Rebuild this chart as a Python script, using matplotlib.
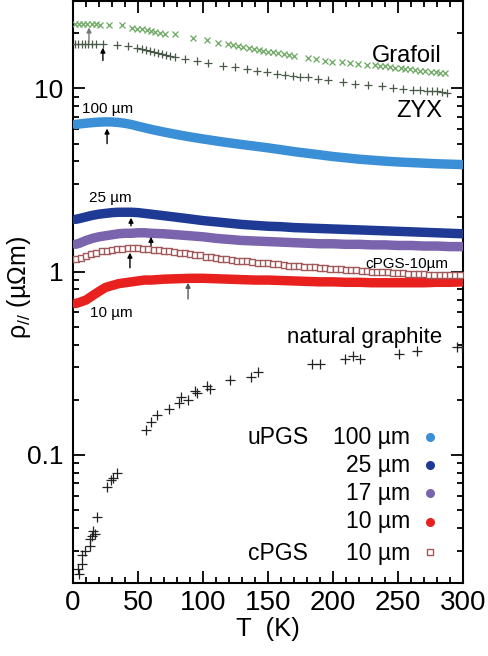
import matplotlib
matplotlib.use('Agg')
import matplotlib.pyplot as plt
from matplotlib.ticker import MultipleLocator, FixedLocator, FixedFormatter, LogLocator, NullFormatter

plt.rcParams['font.family'] = ['Liberation Sans', 'DejaVu Sans']
plt.rcParams['mathtext.fontset'] = 'custom'
plt.rcParams['mathtext.rm'] = 'Liberation Sans'
plt.rcParams['mathtext.it'] = 'Liberation Sans:italic'

# ---------------- data ----------------
T_band = [2, 5, 10, 15, 20, 25, 30, 35, 40, 45, 50, 55, 60, 70, 80, 90, 100, 110, 120, 130,
          140, 150, 160, 170, 180, 190, 200, 210, 220, 230, 240, 250, 260, 270, 280, 290, 300]
rho_u100 = [6.36, 6.40, 6.46, 6.51, 6.55, 6.57, 6.56, 6.52, 6.45, 6.35, 6.22, 6.10, 5.98, 5.78,
            5.60, 5.44, 5.30, 5.17, 5.05, 4.94, 4.84, 4.74, 4.63, 4.52, 4.43, 4.34, 4.25, 4.18,
            4.11, 4.06, 4.01, 3.97, 3.94, 3.91, 3.88, 3.86, 3.84]
rho_u25 = [1.93, 1.95, 1.99, 2.03, 2.06, 2.08, 2.10, 2.11, 2.11, 2.11, 2.10, 2.08, 2.06, 2.02,
           1.98, 1.94, 1.90, 1.87, 1.84, 1.81, 1.79, 1.77, 1.76, 1.74, 1.73, 1.72, 1.71, 1.70,
           1.69, 1.68, 1.67, 1.66, 1.65, 1.64, 1.63, 1.62, 1.61]
rho_u17 = [1.41, 1.43, 1.48, 1.52, 1.55, 1.57, 1.59, 1.61, 1.62, 1.62, 1.63, 1.63, 1.62, 1.61,
           1.59, 1.57, 1.55, 1.52, 1.50, 1.48, 1.47, 1.46, 1.45, 1.44, 1.43, 1.42, 1.42, 1.41,
           1.41, 1.40, 1.40, 1.39, 1.39, 1.38, 1.38, 1.37, 1.37]
rho_u10 = [0.67, 0.68, 0.70, 0.74, 0.78, 0.82, 0.84, 0.86, 0.87, 0.88, 0.89, 0.90, 0.90, 0.91,
           0.915, 0.92, 0.92, 0.915, 0.91, 0.905, 0.90, 0.90, 0.895, 0.89, 0.885, 0.88, 0.88,
           0.875, 0.875, 0.87, 0.87, 0.87, 0.87, 0.87, 0.875, 0.875, 0.88]

T_c10 = [2, 6, 10, 14, 18, 22, 26, 30, 34, 38, 42, 46, 50, 54, 58, 62, 66, 70, 74, 78, 82, 86,
         90, 94, 98, 102, 106, 110, 114, 118, 122, 126, 130, 134, 138, 142, 146, 150, 154, 158,
         162, 166, 170, 174, 178, 182, 186, 190, 194, 198, 202, 206, 210, 214, 218, 222, 226,
         230, 234, 238, 242, 246, 250, 254, 258, 262, 266, 270, 274, 278, 282, 286, 290, 294, 298]
rho_c10 = [1.17, 1.19, 1.22, 1.25, 1.27, 1.29, 1.30, 1.32, 1.33, 1.335, 1.34, 1.34, 1.34, 1.335,
           1.33, 1.32, 1.31, 1.30, 1.29, 1.28, 1.27, 1.26, 1.25, 1.24, 1.23, 1.21, 1.20, 1.19,
           1.18, 1.17, 1.16, 1.15, 1.145, 1.14, 1.13, 1.12, 1.12, 1.11, 1.10, 1.095, 1.09, 1.08,
           1.075, 1.07, 1.065, 1.06, 1.055, 1.05, 1.045, 1.04, 1.035, 1.03, 1.025, 1.02, 1.015,
           1.01, 1.005, 1.00, 0.995, 0.99, 0.99, 0.985, 0.98, 0.98, 0.975, 0.975, 0.97, 0.97,
           0.965, 0.965, 0.96, 0.96, 0.96, 0.96, 0.96]

T_grafoil = [1.5, 4.9, 7.9, 11, 14.4, 17.7, 20.8, 27.9, 37.4, 45.1, 49, 52.8, 56.7, 59.7, 63.1,
             66.9, 70.8, 78.5, 92.6, 102.8, 111.8, 119.5, 123, 127, 131, 135, 139, 143, 146, 150,
             154, 158, 162, 166, 170, 181, 187, 194, 199, 207, 213, 219.5, 226, 232, 236, 240,
             244, 248, 252, 255, 259, 263, 267, 271, 275, 279, 282, 286]
rho_grafoil = [22.4, 22.4, 22.4, 22.4, 22.4, 22.4, 22.3, 22.3, 22.1, 21.4, 21.2, 21.0, 20.8, 20.5,
               20.3, 20.1, 19.9, 19.7, 18.9, 18.3, 17.8, 17.4, 17.2, 17.0, 16.8, 16.6, 16.4, 16.2,
               16.1, 15.9, 15.8, 15.6, 15.4, 15.3, 15.1, 14.7, 14.4, 14.2, 14.0, 13.9, 13.8, 13.6,
               13.5, 13.4, 13.3, 13.2, 13.1, 13.0, 12.9, 12.8, 12.7, 12.6, 12.5, 12.4, 12.35,
               12.3, 12.2, 12.1]

T_zyx = [1.5, 4.1, 6.7, 9.2, 11.8, 14.4, 17.7, 23.3, 33.6, 42.6, 49, 52.8, 56.2, 59.2, 62.3, 65.6,
         68.2, 71.5, 74.6, 78.5, 86.2, 95.1, 104.1, 115.6, 124.6, 133.6, 141.3, 149, 156.7, 163.1,
         169.5, 174.6, 181, 188.7, 196.4, 207.9, 216.9, 227.2, 237.4, 246.4, 254.1, 261.8, 266.9,
         272, 275.9, 279.7, 283.6, 287.4]
rho_zyx = [17.5, 17.5, 17.5, 17.5, 17.5, 17.5, 17.5, 17.5, 17.3, 17.0, 16.7, 16.5, 16.3, 16.1,
           15.8, 15.6, 15.5, 15.3, 15.1, 14.9, 14.5, 14.1, 13.7, 13.3, 13.1, 12.8, 12.5, 12.3,
           12.0, 11.9, 11.7, 11.6, 11.5, 11.2, 11.1, 10.8, 10.6, 10.4, 10.3, 10.1, 9.96, 9.83,
           9.75, 9.71, 9.67, 9.63, 9.59, 9.5]

T_nat = [295.2, 299, 264.4, 250.8, 220.8, 215.2, 209.2, 190, 183.6, 142.5, 136.7, 120.8, 105.4,
         102.8, 95.2, 93.8, 88.7, 82.8, 81.8, 74.1, 64.4, 59.8, 56.2, 33.6, 31.0, 29.2, 25.9,
         18.2, 15.6, 14.4, 16.9, 13.1, 13.1, 9.2, 6.7, 6.7, 4.1, 4.8]
rho_nat = [0.386, 0.389, 0.367, 0.355, 0.334, 0.345, 0.334, 0.313, 0.313, 0.282, 0.267, 0.256,
           0.228, 0.238, 0.219, 0.224, 0.199, 0.206, 0.191, 0.179, 0.165, 0.152, 0.137, 0.080,
           0.075, 0.073, 0.0668, 0.0458, 0.0385, 0.0361, 0.0369, 0.0347, 0.0318, 0.0299, 0.0286,
           0.0253, 0.0237, 0.0223]

# arrows marking maxima: T, tip rho, tail rho
arrow_T = [12.3, 23, 26.2, 44.6, 60, 43.8, 88.5]
arrow_tip = [21.5, 16.7, 6.04, 1.97, 1.55, 1.27, 0.87]
arrow_tail = [17.8, 14.2, 5.0, 1.78, 1.39, 1.05, 0.71]
arrow_col = ['#777777', 'k', 'k', 'k', 'k', 'k', '#555555']

leg_labels = ['100 µm', '25 µm', '17 µm', '10 µm', '10 µm']
leg_groups = ['uPGS', '', '', '', 'cPGS']

# ---------------- styles ----------------
c_u100 = '#3a8fd6'
c_u25 = '#1f3a94'
c_u17 = '#7a64ad'
c_u10 = '#e8201e'
c_c10 = '#a05858'
c_graf = '#6aa860'
c_zyx = '#4a5a48'
c_nat = '#222222'

fig = plt.figure(figsize=(4.88, 6.56), dpi=100)
ax = fig.add_axes([73 / 488, 73 / 656, 390 / 488, 582 / 656])
ax.set_yscale('log')
ax.set_xlim(0, 300)
ax.set_ylim(0.02, 30)

band_lw = 6.8
ax.plot(T_band, rho_u100, '-', color=c_u100, lw=band_lw, solid_capstyle='round', solid_joinstyle='round', zorder=3)
ax.plot(T_band, rho_u25, '-', color=c_u25, lw=band_lw, solid_capstyle='round', solid_joinstyle='round', zorder=3)
ax.plot(T_band, rho_u17, '-', color=c_u17, lw=band_lw, solid_capstyle='round', solid_joinstyle='round', zorder=3)
ax.plot(T_band, rho_u10, '-', color=c_u10, lw=band_lw, solid_capstyle='round', solid_joinstyle='round', zorder=3)
ax.plot(T_c10, rho_c10, 's', ms=3.8, mfc='white', mec=c_c10, mew=1.0, zorder=3)
ax.plot(T_grafoil, rho_grafoil, 'x', ms=5, mew=0.9, color=c_graf, zorder=3)
ax.plot(T_zyx, rho_zyx, '+', ms=5.5, mew=0.9, color=c_zyx, zorder=3)
ax.plot(T_nat, rho_nat, '+', ms=6.5, mew=0.9, color=c_nat, zorder=3)

for t, tip, tail, col in zip(arrow_T, arrow_tip, arrow_tail, arrow_col):
    ax.annotate('', xy=(t, tip), xytext=(t, tail),
                arrowprops=dict(arrowstyle='-|>', color=col, lw=1.0, mutation_scale=7,
                                shrinkA=0, shrinkB=0), zorder=5)

# curve labels
ax.text(0.946, 0.896, 'Grafoil', transform=ax.transAxes, ha='right', va='baseline', fontsize=17)
ax.text(0.946, 0.801, 'ZYX', transform=ax.transAxes, ha='right', va='baseline', fontsize=17)
ax.text(0.023, 0.808, '100 µm', transform=ax.transAxes, ha='left', va='baseline', fontsize=11)
ax.text(0.041, 0.655, '25 µm', transform=ax.transAxes, ha='left', va='baseline', fontsize=11)
ax.text(0.962, 0.542, 'cPGS-10µm', transform=ax.transAxes, ha='right', va='baseline', fontsize=11)
ax.text(0.044, 0.457, '10 µm', transform=ax.transAxes, ha='left', va='baseline', fontsize=11)
ax.text(0.946, 0.412, 'natural graphite', transform=ax.transAxes, ha='right', va='baseline', fontsize=16)

# legend (manual)
leg_text_y = [0.238, 0.191, 0.143, 0.095, 0.0395]
leg_mark_y = [0.251, 0.203, 0.155, 0.105, 0.053]
leg_styles = [dict(marker='o', ms=6.5, color=c_u100, mec='none'),
              dict(marker='o', ms=6.5, color=c_u25, mec='none'),
              dict(marker='o', ms=6.5, color=c_u17, mec='none'),
              dict(marker='o', ms=6.5, color=c_u10, mec='none'),
              dict(marker='s', ms=3.8, mfc='white', mec=c_c10, mew=1.0)]
for lab, grp, ty, my, st in zip(leg_labels, leg_groups, leg_text_y, leg_mark_y, leg_styles):
    ax.text(0.864, ty, lab, transform=ax.transAxes, ha='right', va='baseline', fontsize=16.5)
    if grp:
        ax.text(0.603, ty, grp, transform=ax.transAxes, ha='right', va='baseline', fontsize=16.5)
    ax.plot([0.915], [my], transform=ax.transAxes, linestyle='none', clip_on=False, **st)

# axes styling
for s in ax.spines.values():
    s.set_linewidth(1.5)
ax.xaxis.set_major_locator(MultipleLocator(50))
ax.xaxis.set_minor_locator(MultipleLocator(10))
ax.yaxis.set_major_locator(FixedLocator([0.1, 1, 10]))
ax.yaxis.set_major_formatter(FixedFormatter(['0.1', '1', '10']))
ax.yaxis.set_minor_locator(LogLocator(base=10, subs=[2, 3, 4, 5, 6, 7, 8, 9]))
ax.yaxis.set_minor_formatter(NullFormatter())
ax.tick_params(which='both', direction='in', top=True, right=True, width=1.3)
ax.tick_params(which='major', length=8.5)
ax.tick_params(which='minor', length=4.3)
ax.tick_params(axis='x', labelsize=20, pad=5)
ax.tick_params(axis='y', labelsize=19, pad=7)

ax.set_xlabel('T  (K)', fontsize=18.5, va='center')
ax.xaxis.set_label_coords(0.5, -0.079)
ax.set_ylabel('ρ$_{//}$ (µΩm)', fontsize=18, va='center')
ax.yaxis.set_label_coords(-0.138, 0.507)

fig.savefig('out.png', dpi=100)
